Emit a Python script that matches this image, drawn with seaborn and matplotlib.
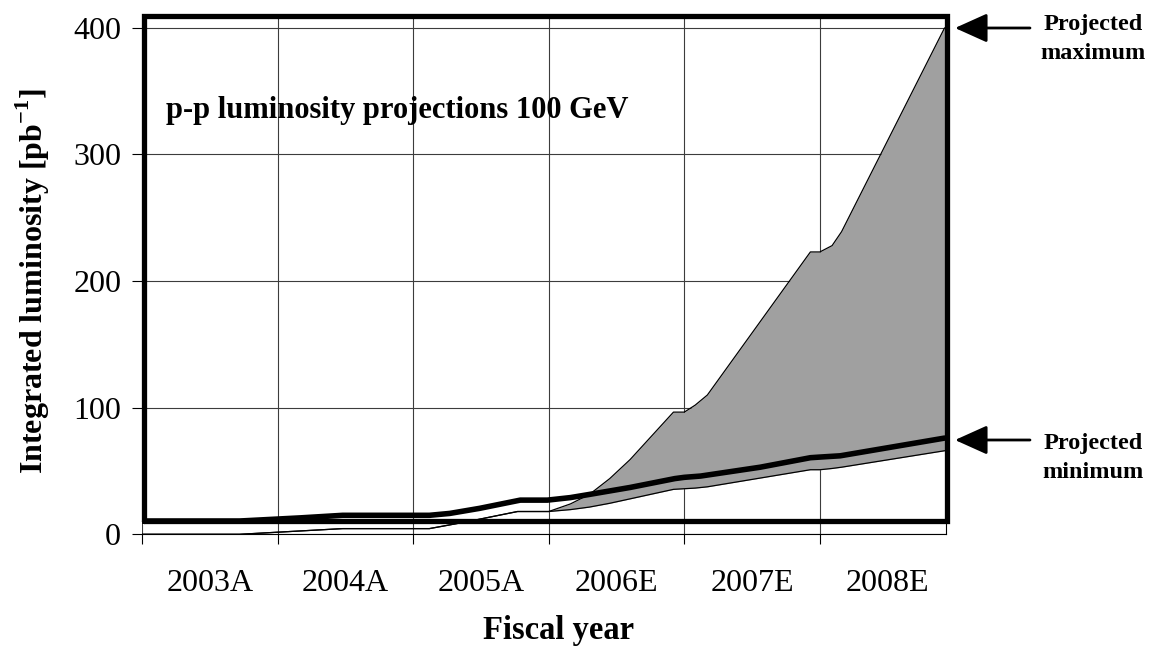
import numpy as np
import pandas as pd
import matplotlib
matplotlib.use("Agg")
import matplotlib.pyplot as plt
from matplotlib.patches import FancyArrowPatch
import seaborn as sns

# fiscal year axis: 0 = start of FY2003, one unit per year
years = ["2003A", "2004A", "2005A", "2006E", "2007E", "2008E"]

# thick curve
t_mid = [0.0, 0.72, 1.17, 1.48, 2.12, 2.27, 2.49, 2.79, 2.99, 3.16, 3.30, 3.60,
         3.93, 4.00, 4.12, 4.56, 4.93, 5.00, 5.15, 5.92]
lum_mid = [10.5, 10.5, 13, 15, 15, 16.5, 20.5, 27, 27, 29, 31.5, 37,
           44, 45, 46, 53, 60.5, 61, 62, 76]

# projected band (min / max), identical for the actual years
t_band = [0.0, 0.72, 1.48, 2.12, 2.40, 2.77, 3.00, 3.16, 3.30, 3.45, 3.60, 3.92, 4.00,
          4.08, 4.17, 4.93, 5.00, 5.09, 5.16, 5.92]
lum_min = [0, 0, 4.5, 4.5, 10, 18, 18, 19.5, 21.5, 24.5, 28, 35.5, 36,
           36.5, 37.5, 51, 51, 52, 53, 66]
lum_max = [0, 0, 4.5, 4.5, 10, 18, 18, 24, 31.5, 44, 59, 96.5, 96.5,
           102, 110, 223, 223, 228, 239, 400]

# thick box series
box_x = [0.015, 0.015, 5.935, 5.935, 0.015]
box_y = [10.5, 409, 409, 10.5, 10.5]

sns.set_theme(style="white")
plt.rcParams['font.family'] = ['Liberation Serif', 'DejaVu Serif']
plt.rcParams['mathtext.fontset'] = 'custom'
plt.rcParams['mathtext.rm'] = 'Liberation Serif'
plt.rcParams['mathtext.bf'] = 'Liberation Serif:bold'
plt.rcParams['text.color'] = 'black'
plt.rcParams['axes.labelcolor'] = 'black'
plt.rcParams['xtick.color'] = 'black'
plt.rcParams['ytick.color'] = 'black'

fig = plt.figure(figsize=(11.49, 6.46), dpi=100)
ax = fig.add_axes([0.1236, 0.1729, 0.6997, 0.8036])

band = pd.DataFrame({"t": t_band, "lo": lum_min, "hi": lum_max})
mid = pd.DataFrame({"t": t_mid, "lum": lum_mid})

ax.fill_between(band["t"], band["lo"], band["hi"], color="#a0a0a0", lw=0, zorder=2)
sns.lineplot(data=band, x="t", y="lo", color="black", lw=0.9, ax=ax,
             estimator=None, sort=False, zorder=3)
sns.lineplot(data=band, x="t", y="hi", color="black", lw=0.9, ax=ax,
             estimator=None, sort=False, zorder=3)
sns.lineplot(data=mid, x="t", y="lum", color="black", lw=4.0, ax=ax,
             estimator=None, sort=False, zorder=4)
ax.plot(box_x, box_y, color="black", lw=3.8, clip_on=False, zorder=5,
        solid_joinstyle="miter")

ax.set_xlim(0, 5.93)
ax.set_ylim(0, 410)

ax.set_yticks([0, 100, 200, 300, 400])
ax.set_xticks(range(6))
ax.set_xticklabels([])
ax.set_xticks([i + 0.5 for i in range(6)], minor=True)
ax.set_xticklabels(years, minor=True)
ax.tick_params(axis="x", which="major", direction="out", length=7, width=0.8,
               color="black", bottom=True)
ax.tick_params(axis="x", which="minor", length=0, pad=25, labelsize=23,
               labelcolor="black")
ax.tick_params(axis="y", direction="out", length=7, width=0.8, color="black",
               left=True, pad=8, labelsize=23, labelcolor="black")

ax.grid(True, which="major", color="#3c3c3c", lw=0.8)
ax.set_axisbelow(True)

for s in ["top", "left"]:
    ax.spines[s].set_visible(False)
for s in ["bottom", "right"]:
    ax.spines[s].set_color("black")
    ax.spines[s].set_linewidth(0.8)

ax.set_xlabel("")
ax.set_ylabel("")
fig.text(559 / 1149, 1 - 630 / 646, "Fiscal year", ha="center", va="center",
         fontsize=23.5, fontweight="bold", color="black")
fig.text(33 / 1149, 1 - 281 / 646, r"Integrated luminosity [pb$^{\mathbf{-1}}$]",
         ha="center", va="center", rotation=90, fontsize=23, fontweight="bold",
         color="black")

ax.text(0.03, 0.816, "p-p luminosity projections 100 GeV", transform=ax.transAxes,
        ha="left", va="center", fontsize=22, fontweight="bold", color="black")

# annotations on the right
for label, ty, ay in [("Projected\nmaximum", 39, 28), ("Projected\nminimum", 458, 440)]:
    fig.text(1093 / 1149, 1 - ty / 646, label, ha="center", va="center",
             multialignment="center", fontsize=17.5, fontweight="bold",
             linespacing=1.55, color="black")
    fig.add_artist(FancyArrowPatch(
        (1030 / 1149, 1 - ay / 646), (955 / 1149, 1 - ay / 646),
        transform=fig.transFigure, arrowstyle="-|>,head_length=1.0,head_width=0.45",
        mutation_scale=20, color="black", lw=2.0, shrinkA=0, shrinkB=0))

fig.savefig("out.png", dpi=100)
